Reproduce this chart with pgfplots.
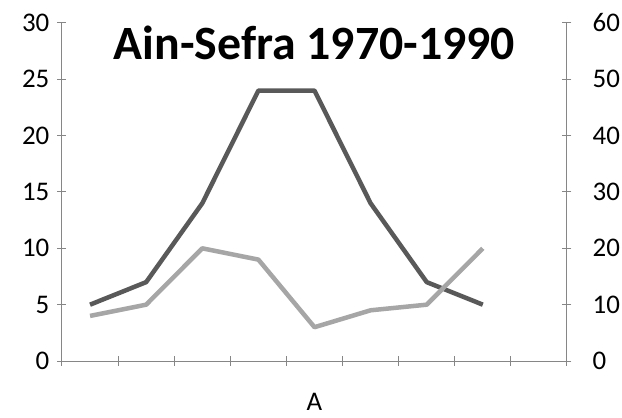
\documentclass[border=0pt]{standalone}
\usepackage{pgfplots}
\pgfplotsset{compat=1.18}
\usepackage{fontspec}
\setmainfont{Carlito}
\definecolor{darkline}{HTML}{595959}
\definecolor{lightline}{HTML}{A6A6A6}
\definecolor{axgray}{HTML}{868686}
\begin{document}
\begin{tikzpicture}
\pgfplotsset{
  common/.style={
    at={(0,0)}, anchor=south west,
    scale only axis, width=505bp, height=338bp,
    xmin=0.5, xmax=9.5,
    /pgf/number format/assume math mode=true,
    tick label style={font=\fontsize{27}{30}\selectfont, text=black},
    axis line style={axgray, line width=1bp},
    every tick/.style={axgray, line width=1bp},
    major tick length=9bp,
    tick align=outside,
    clip=false,
  }
}
\begin{axis}[common,
  axis x line=bottom, axis y line=left,
  axis line style={-},
  ymin=0, ymax=30, ytick={0,5,...,30},
  xtick={0.5,1.5,...,9.5}, xticklabels={},
  yticklabel style={anchor=east, inner sep=0pt, xshift=-8bp},
]
\addplot[darkline, line width=4.5bp, line join=round] coordinates {
(1,5) (2,7) (3,14) (4,24) (5,24) (6,14) (7,7) (8,5)};
\node[anchor=base, font=\fontsize{48}{50}\selectfont\bfseries] at (axis description cs:0.5,1) [yshift=-37bp] {Ain-Sefra 1970-1990};
\node[font=\fontsize{27}{30}\selectfont] at (axis description cs:0.5,0) [yshift=-41bp] {A};
\end{axis}
\begin{axis}[common,
  axis x line=none, axis y line=right,
  axis line style={-},
  ymin=0, ymax=60, ytick={0,10,...,60},
  yticklabel style={anchor=west, inner sep=0pt, xshift=21bp},
]
\addplot[lightline, line width=4.5bp, line join=round] coordinates {
(1,8) (2,10) (3,20) (4,18) (5,6) (6,9) (7,10) (8,20)};
\end{axis}
\path[use as bounding box] (-62bp,-57bp) rectangle (560bp,361bp);
\end{tikzpicture}
\end{document}
